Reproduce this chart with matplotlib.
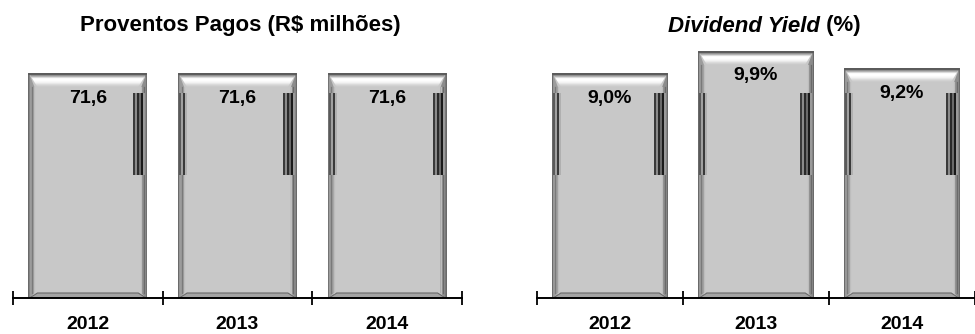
import numpy as np
import matplotlib.pyplot as plt
from matplotlib.patches import Rectangle, Polygon
from matplotlib.colors import LinearSegmentedColormap

plt.rcParams['font.family'] = ['Liberation Sans', 'DejaVu Sans']

# Dados
anos = ['2012', '2013', '2014']
proventos = [71.6, 71.6, 71.6]
proventos_lbl = ['71,6', '71,6', '71,6']
dy = [9.0, 9.9, 9.2]
dy_lbl = ['9,0%', '9,9%', '9,2%']

fig = plt.figure(figsize=(9.75, 3.34), dpi=100)

base = 36 / 334
alt = 258 / 334
ax1 = fig.add_axes([13 / 975, base, 449 / 975, alt])
ax2 = fig.add_axes([537 / 975, base, 438 / 975, alt])

cmap_top = LinearSegmentedColormap.from_list(
    'bis', ['#c8c8c8', '#d8d8d8', '#f4f4f4', '#ffffff', '#ffffff', '#a8a8a8', '#6a6a6a'])


def barras_bisel(ax, vals, ymax, listra_esq):
    x = np.arange(len(vals))
    w = 0.78
    bars = ax.bar(x, vals, width=w, color='#c8c8c8', edgecolor='#5a5a5a',
                  linewidth=1.3, zorder=2)
    py = ymax / 258.0  # valor por pixel
    dx = 1 / 150.0     # categoria por pixel
    grad = np.linspace(0, 1, 60).reshape(-1, 1)
    for i, b in enumerate(bars):
        x0, h, bw = b.get_x(), b.get_height(), b.get_width()
        x1 = x0 + bw
        # laterais do bisel
        ax.add_patch(Polygon([(x0, 0), (x0, h), (x0 + 5 * dx, h - 13 * py), (x0 + 5 * dx, 5 * py)],
                             closed=True, facecolor='#9c9c9c', edgecolor='none', zorder=3))
        ax.add_patch(Polygon([(x1, 0), (x1, h), (x1 - 5 * dx, h - 13 * py), (x1 - 5 * dx, 5 * py)],
                             closed=True, facecolor='#8c8c8c', edgecolor='none', zorder=3))
        ax.add_patch(Polygon([(x0, 0), (x1, 0), (x1 - 8 * dx, 5 * py), (x0 + 8 * dx, 5 * py)],
                             closed=True, facecolor='#a4a4a4', edgecolor='#6a6a6a', lw=0.8, zorder=3))
        for xl, c in ((x0 + 5 * dx, '#bdbdbd'), (x1 - 5 * dx, '#bdbdbd'),
                      (x0 + 2.5 * dx, '#7a7a7a'), (x1 - 2.5 * dx, '#6a6a6a')):
            ax.plot([xl, xl], [5 * py, h - 13 * py], color=c, lw=0.9, zorder=3)
        # faixa superior (brilho)
        topo = Polygon([(x0, h), (x1, h), (x1 - 8 * dx, h - 13 * py), (x0 + 8 * dx, h - 13 * py)],
                       closed=True, facecolor='none', edgecolor='none', zorder=3)
        ax.add_patch(topo)
        im = ax.imshow(grad, cmap=cmap_top, aspect='auto', zorder=3, origin='lower',
                       extent=(x0, x1, h - 13 * py, h))
        im.set_clip_path(topo)
        ax.plot([x0, x1], [h, h], color='#5a5a5a', lw=1.3, zorder=4)
        # listras escuras laterais (faixa fixa)
        y_a, y_b = 123 * py, 205 * py
        for k, c in enumerate(['#3a3a3a', '#8a8a8a', '#2a2a2a', '#6a6a6a', '#1a1a1a', '#9a9a9a']):
            ax.add_patch(Rectangle((x1 - (13 - 2 * k) * dx, y_a), 2 * dx, y_b - y_a,
                                   facecolor=c, edgecolor='none', zorder=3))
        if listra_esq[i]:
            for k, c in enumerate(['#5a5a5a', '#a0a0a0', '#3a3a3a', '#b0b0b0']):
                ax.add_patch(Rectangle((x0 + 2 * k * dx, y_a), 2 * dx, y_b - y_a,
                                       facecolor=c, edgecolor='none', zorder=3))
    return bars


for ax, vals, lbls, ymax, esq in (
        (ax1, proventos, proventos_lbl, 82.5, [False, True, True]),
        (ax2, dy, dy_lbl, 10.37, [True, True, True])):
    bars = barras_bisel(ax, vals, ymax, esq)
    ax.set_xlim(-0.5, 2.5 if ax is ax1 else 2.42)
    ax.set_ylim(0, ymax)
    for b, l in zip(bars, lbls):
        ax.text(b.get_x() + b.get_width() / 2, b.get_height() - 24 * ymax / 258, l,
                ha='center', va='center', fontsize=14, fontweight='bold', zorder=5)
    for s in ('left', 'right', 'top'):
        ax.spines[s].set_visible(False)
    ax.spines['bottom'].set_linewidth(1.4)
    ax.spines['bottom'].set_zorder(5)
    ax.set_yticks([])
    ax.set_xticks(range(3))
    ax.set_xticklabels(anos, fontsize=14, fontweight='bold')
    ax.tick_params(axis='x', which='major', length=0, pad=13)
    ax.set_xticks([-0.5, 0.5, 1.5, 2.5], minor=True)
    ax.tick_params(axis='x', which='minor', direction='inout', length=10, width=1.3)
    ax.set_facecolor('none')

fig.text(240 / 975, 1 - 26 / 334, 'Proventos Pagos (R$ milhões)', ha='center', va='center',
         fontsize=16, fontweight='bold')
fig.text(820 / 975, 1 - 26 / 334, 'Dividend Yield', ha='right', va='center',
         fontsize=16, fontweight='bold', fontstyle='italic')
fig.text(820 / 975, 1 - 26 / 334, ' (%)', ha='left', va='center', fontsize=16, fontweight='bold')

fig.savefig('out.png', dpi=100)
